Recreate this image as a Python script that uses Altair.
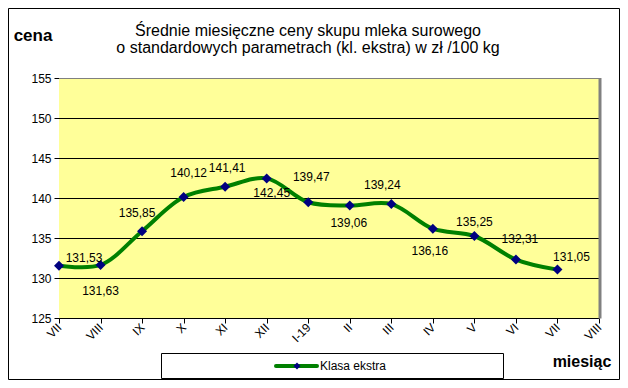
import altair as alt
import pandas as pd

# ---- data ----
month_labels = ["VII", "VIII", "IX", "X", "XI", "XII", "I-19", "II", "III", "IV", "V", "VI", "VII", "VIII"]
prices = [131.53, 131.63, 135.85, 140.12, 141.41, 142.45, 139.47, 139.06, 139.24, 136.16, 135.25, 132.31, 131.05]
series_name = "Klasa ekstra"
y_ticks = [125, 130, 135, 140, 145, 150, 155]
title_lines = ["Średnie miesięczne ceny skupu mleka surowego",
               "o standardowych parametrach (kl. ekstra) w zł /100 kg"]
y_title = "cena"
x_title = "miesiąc"

# label offsets (pixels) relative to each point, as Excel placed them
label_dx = [25, 0, -5, 5, 2, 5, 3, -1, -9, -3, 0, 4, 14]
label_dy = [-8, 26, -18, -24, -19, 15, -25, 17, -19, 22, -14, -21, -13]

FONT = "Liberation Sans"
W, H = 540, 240

df = pd.DataFrame({
    "idx": list(range(len(prices))),
    "price": prices,
    "label": [f"{p:.2f}".replace(".", ",") for p in prices],
})
grid_df = pd.DataFrame({"price": y_ticks[1:]})

label_expr = "[" + ",".join(f"'{m}'" for m in month_labels) + "][datum.value]"

x_scale = alt.Scale(domain=[0, len(month_labels) - 1], nice=False, zero=False)
y_scale = alt.Scale(domain=[y_ticks[0], y_ticks[-1]], nice=False, zero=False)

x_axis = alt.Axis(values=list(range(len(month_labels))), labelExpr=label_expr,
                  labelAngle=315, labelAlign="right", labelBaseline="middle",
                  title=None, grid=False, tickSize=5, tickColor="black",
                  domainColor="black", labelFontSize=12, labelPadding=2,
                  labelColor="black", labelFont=FONT, labelOverlap=False)
y_axis = alt.Axis(values=y_ticks, title=None, grid=False,
                  tickSize=5, tickColor="black", domainColor="black",
                  labelFontSize=12, labelPadding=3, labelColor="black", labelFont=FONT,
                  labelOverlap=False)

x_enc = alt.X("idx:Q", scale=x_scale, axis=x_axis)
y_enc = alt.Y("price:Q", scale=y_scale, axis=y_axis)

one = pd.DataFrame({"a": [0]})

plot_bg = alt.Chart(one).mark_rect(fill="#FFFF99", stroke=None).encode(
    x=alt.value(0), x2=alt.value(W), y=alt.value(0), y2=alt.value(H))

grid = alt.Chart(grid_df).mark_rule(strokeWidth=1, yOffset=0.5).encode(
    y=y_enc,
    color=alt.condition(alt.datum.price == y_ticks[-1], alt.value("#808080"), alt.value("#000000")),
)

base = alt.Chart(df).encode(x=x_enc, y=y_enc)

line = base.mark_line(interpolate="catmull-rom", color="#008000", strokeWidth=4)
points = base.mark_point(shape="diamond", filled=True, color="#000080", size=100, opacity=1)

labels = []
for i in range(len(prices)):
    labels.append(
        base.transform_filter(alt.datum.idx == i)
        .mark_text(dx=label_dx[i], dy=label_dy[i], fontSize=12, font=FONT, color="black", baseline="middle")
        .encode(text="label:N")
    )

right_edge = alt.Chart(one).mark_rule(color="#808080", strokeWidth=3).encode(
    x=alt.value(W + 1), y=alt.value(0), y2=alt.value(H + 0.5))


def txt(t, x, y, size, weight="normal", align="center", baseline="alphabetic"):
    return alt.Chart(pd.DataFrame({"t": [t]})).mark_text(
        fontSize=size, fontWeight=weight, font=FONT, color="black", align=align, baseline=baseline
    ).encode(text="t:N", x=alt.value(x), y=alt.value(y))


title1 = txt(title_lines[0], 249, -42, 16)
title2 = txt(title_lines[1], 249, -25, 16)
ytitle = txt(y_title, -26, -37, 17, "bold")
xtitle = txt(x_title, 523, 289, 16, "bold")

legend_box = alt.Chart(one).mark_rect(fill="white", stroke="black", strokeWidth=1).encode(
    x=alt.value(102.5), x2=alt.value(444.5), y=alt.value(275.5), y2=alt.value(300.5))
legend_line = alt.Chart(one).mark_rule(color="#008000", strokeWidth=4, strokeCap="round").encode(
    x=alt.value(217), x2=alt.value(258), y=alt.value(288))
legend_pt = alt.Chart(one).mark_point(shape="diamond", filled=True, color="#000080", size=50, opacity=1).encode(
    x=alt.value(238), y=alt.value(288))
legend_txt = txt(series_name, 261, 288, 12, align="left", baseline="middle")

outer = alt.Chart(one).mark_rect(fill=None, stroke="black", strokeWidth=1).encode(
    x=alt.value(-50.5), x2=alt.value(560.5), y=alt.value(-69.5), y2=alt.value(301.5))

chart = alt.layer(
    plot_bg, grid, line, points, *labels, right_edge, title1, title2, ytitle, xtitle,
    legend_box, legend_line, legend_pt, legend_txt, outer
).properties(
    width=W, height=H,
    autosize=alt.AutoSizeParams(type="none"),
    padding={"left": 51, "top": 70, "right": 21, "bottom": 62},
    background="white",
).configure_view(stroke=None).configure(font=FONT)

chart.save("out.html", embed_options={"renderer": "svg", "actions": False})
